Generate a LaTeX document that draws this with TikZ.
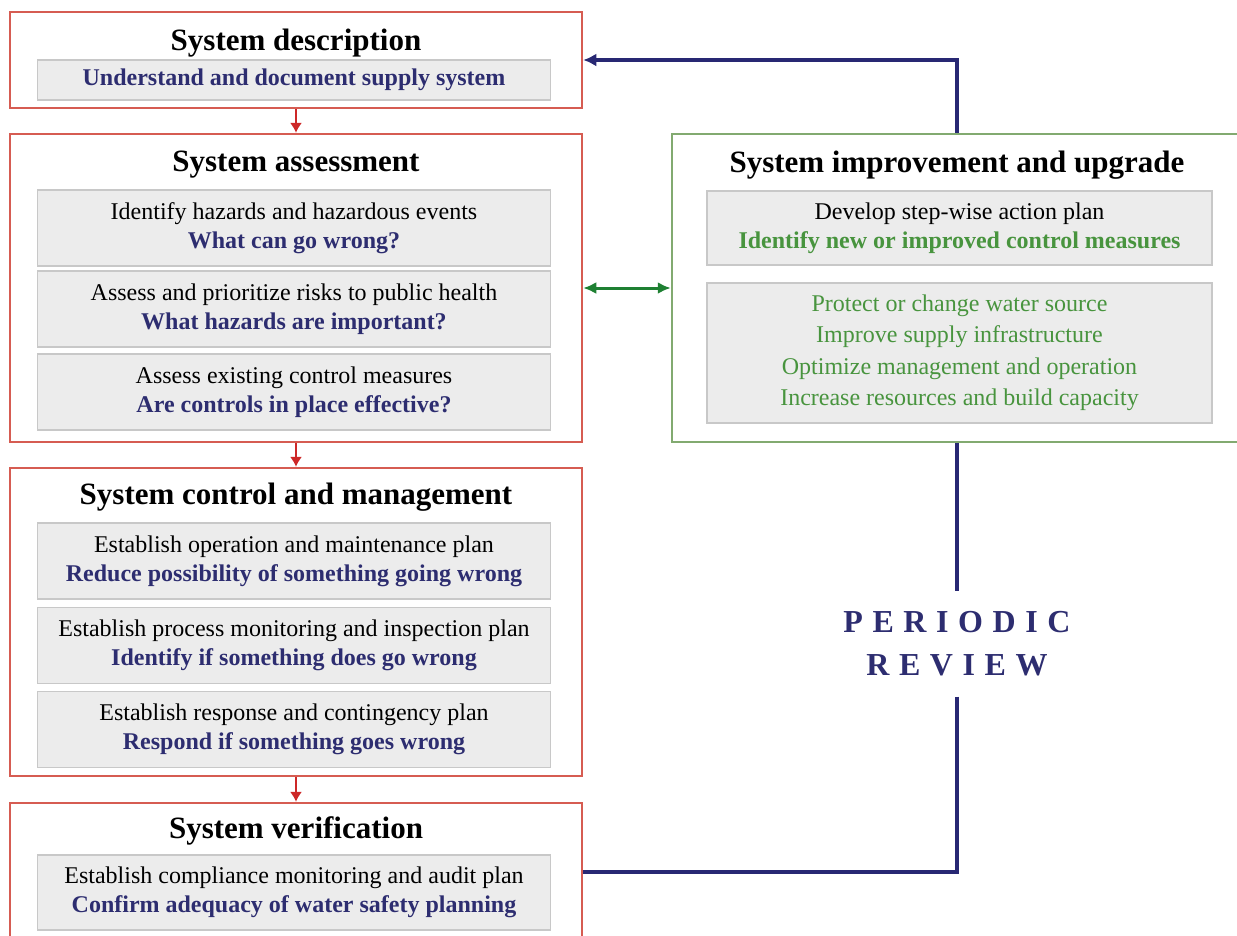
\documentclass[tikz,border=0pt]{standalone}
\usepackage{fontspec}
\setmainfont{Liberation Serif}
\usetikzlibrary{arrows.meta}
\definecolor{stageline}{RGB}{214,92,82}
\definecolor{flowred}{RGB}{205,40,40}
\definecolor{navytext}{RGB}{45,45,112}
\definecolor{greentext}{RGB}{72,148,62}
\definecolor{upgradeline}{RGB}{130,170,112}
\definecolor{taskfill}{RGB}{236,236,236}
\definecolor{taskline}{RGB}{200,200,200}
\definecolor{reviewline}{RGB}{40,40,115}
\definecolor{linkgreen}{RGB}{30,128,50}
\tikzset{
  stage/.style={draw=stageline, line width=2.5pt, fill=white, inner sep=0pt},
  upgradebox/.style={draw=upgradeline, line width=2.5pt, fill=white, inner sep=0pt},
  stagetitle/.style={anchor=base, font=\bfseries\fontsize{31}{36}\selectfont},
  task/.style={draw=taskline, line width=1.2pt, fill=taskfill, inner sep=0pt,
    minimum width=513pt, minimum height=76pt, align=center,
    font=\fontsize{24}{29}\selectfont},
  flow/.style={draw=flowred, line width=1.5pt, -{Latex[length=10pt,width=12pt]}},
  review/.style={draw=reviewline, line width=4pt},
  link/.style={draw=linkgreen, line width=3pt, {Latex[length=13pt,width=12pt]}-{Latex[length=13pt,width=12pt]}}
}
\begin{document}
\begin{tikzpicture}[x=1pt,y=-1pt]
  \useasboundingbox (0,0) rectangle (1237,935);
  %stage boxes on the left
  \node[stage, minimum width=572pt, minimum height=96pt] (desc) at (296,60) {};
  \node[stage, minimum width=572pt, minimum height=308pt] (assess) at (296,288) {};
  \node[stage, minimum width=572pt, minimum height=308pt] (control) at (296,622) {};
  \node[stage, minimum width=572pt, minimum height=137pt] (verif) at (296,871.5) {};
  %improvement box on the right
  \node[upgradebox, minimum width=570pt, minimum height=308pt] (upgrade) at (957,288) {};
  %titles
  \node[stagetitle] (desctitle) at (296,50) {System description};
  \node[stagetitle] (assesstitle) at (296,171) {System assessment};
  \node[stagetitle] (controltitle) at (296,504) {System control and management};
  \node[stagetitle] (veriftitle) at (296,838) {System verification};
  \node[stagetitle] (upgradetitle) at (957,172) {System improvement and upgrade};
  %tasks
  \node[task, minimum height=40pt] (t1) at (294,80) {\textbf{\color{navytext}Understand and document supply system}};
  \node[task] (t2) at (294,228) {Identify hazards and hazardous events\\{\bfseries\color{navytext}What can go wrong?}};
  \node[task] (t3) at (294,309) {Assess and prioritize risks to public health\\{\bfseries\color{navytext}What hazards are important?}};
  \node[task] (t4) at (294,392) {Assess existing control measures\\{\bfseries\color{navytext}Are controls in place effective?}};
  \node[task] (t5) at (294,561) {Establish operation and maintenance plan\\{\bfseries\color{navytext}Reduce possibility of something going wrong}};
  \node[task] (t6) at (294,645.5) {Establish process monitoring and inspection plan\\{\bfseries\color{navytext}Identify if something does go wrong}};
  \node[task] (t7) at (294,729.5) {Establish response and contingency plan\\{\bfseries\color{navytext}Respond if something goes wrong}};
  \node[task, minimum height=75pt] (t8) at (294,892.5) {Establish compliance monitoring and audit plan\\{\bfseries\color{navytext}Confirm adequacy of water safety planning}};
  \node[task, minimum width=505pt, minimum height=74pt] (u1) at (959.5,228) {Develop step-wise action plan\\{\bfseries\color{greentext}Identify new or improved control measures}};
  \node[task, minimum width=505pt, minimum height=140pt, font=\fontsize{24}{31.5}\selectfont\color{greentext}] (u2) at (959.5,353) {Protect or change water source\\Improve supply infrastructure\\Optimize management and operation\\Increase resources and build capacity};
  %periodic review label
  \node[inner xsep=6pt, inner ysep=20pt, align=center, text=navytext,
    font=\fontsize{32}{43}\selectfont\bfseries\addfontfeature{LetterSpace=30}] (periodic) at (957,644) {PERIODIC\\REVIEW};
  %arrows
  \draw[flow] (desc) -- (assess);
  \draw[flow] (assess) -- (control);
  \draw[flow] (control) -- (verif);
  \draw[link] (assess.east) -- (upgrade.west);
  \draw[review, -{Latex[length=13pt,width=13pt]}] (upgrade.north) |- (desc.east);
  \draw[review] (upgrade.south) -- (periodic.north);
  \draw[review] (periodic.south) |- (verif.east);
\end{tikzpicture}
\end{document}
